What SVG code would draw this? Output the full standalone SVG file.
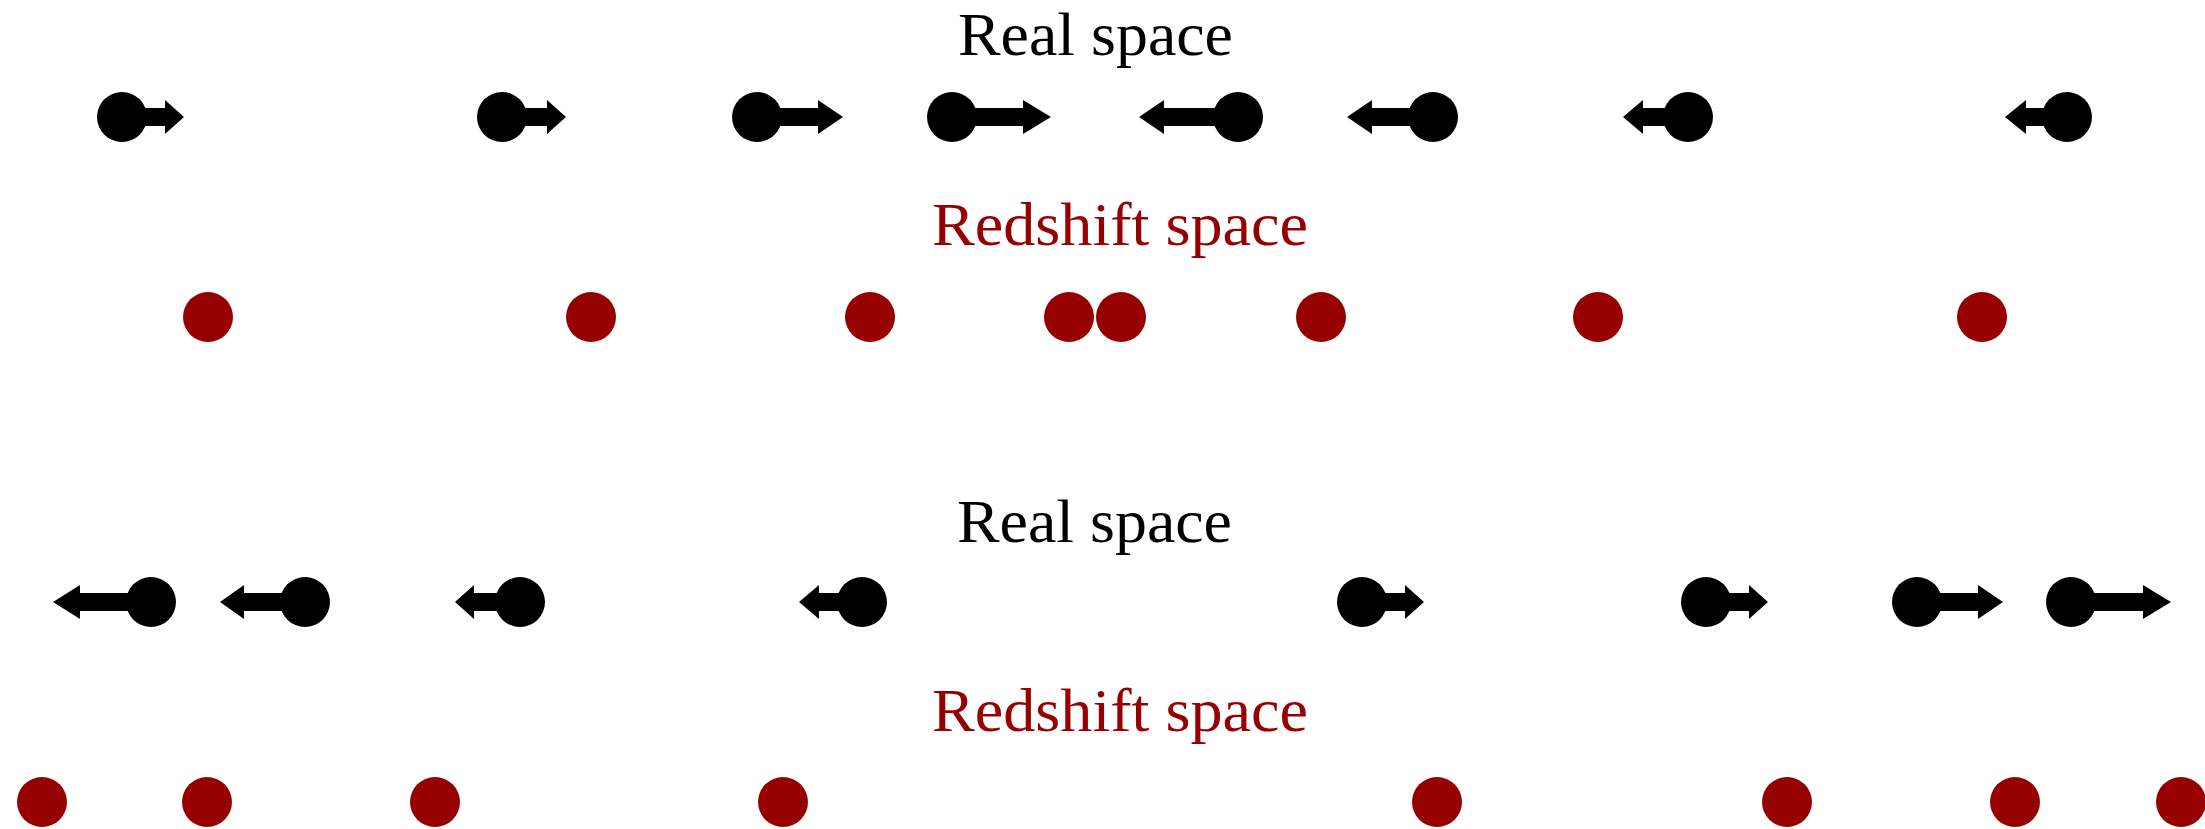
<svg xmlns="http://www.w3.org/2000/svg" width="2205" height="829" viewBox="0 0 2205 829">
<style>
.bg{fill:#ffffff}
.lbl{font-family:"Liberation Serif","DejaVu Serif",serif;font-size:62px}
.real{fill:#000000}
.rs{fill:#960000}
.gal{fill:#000000}
.zgal{fill:#960000}
.arr{fill:#000000}
</style>
<rect class="bg" x="0" y="0" width="2205" height="829"/>
<g id="labels">
<text class="lbl real" x="958" y="55" textLength="275" lengthAdjust="spacingAndGlyphs">Real space</text>
<text class="lbl rs" x="932" y="245" textLength="376" lengthAdjust="spacingAndGlyphs">Redshift space</text>
<text class="lbl real" x="957" y="542" textLength="275" lengthAdjust="spacingAndGlyphs">Real space</text>
<text class="lbl rs" x="932" y="731" textLength="376" lengthAdjust="spacingAndGlyphs">Redshift space</text>
</g>
<g id="connectors">
<polygon class="arr" points="122,108 165,108 165,100 184,117 165,134 165,126 122,126"/>
<polygon class="arr" points="502,108 547,108 547,100 566,117 547,134 547,126 502,126"/>
<polygon class="arr" points="757,108 818,108 818,100 843,117 818,134 818,126 757,126"/>
<polygon class="arr" points="952,108 1023,108 1023,100 1051,117 1023,134 1023,126 952,126"/>
<polygon class="arr" points="1238,108 1164,108 1164,100 1139,117 1164,134 1164,126 1238,126"/>
<polygon class="arr" points="1433,108 1372,108 1372,100 1347,117 1372,134 1372,126 1433,126"/>
<polygon class="arr" points="1688,108 1643,108 1643,100 1623,117 1643,134 1643,126 1688,126"/>
<polygon class="arr" points="2067,108 2026,108 2026,100 2005,117 2026,134 2026,126 2067,126"/>
<polygon class="arr" points="151,593 80,593 80,585 53,602 80,619 80,611 151,611"/>
<polygon class="arr" points="305,593 244,593 244,585 220,602 244,619 244,611 305,611"/>
<polygon class="arr" points="520,593 474,593 474,585 455,602 474,619 474,611 520,611"/>
<polygon class="arr" points="862,593 819,593 819,585 799,602 819,619 819,611 862,611"/>
<polygon class="arr" points="1362,593 1405,593 1405,585 1424,602 1405,619 1405,611 1362,611"/>
<polygon class="arr" points="1706,593 1749,593 1749,585 1768,602 1749,619 1749,611 1706,611"/>
<polygon class="arr" points="1917,593 1978,593 1978,585 2003,602 1978,619 1978,611 1917,611"/>
<polygon class="arr" points="2071,593 2143,593 2143,585 2171,602 2143,619 2143,611 2071,611"/>
</g>
<g id="real-top">
<circle id="r1" class="gal" cx="122" cy="117" r="25"/>
<circle id="r2" class="gal" cx="502" cy="117" r="25"/>
<circle id="r3" class="gal" cx="757" cy="117" r="25"/>
<circle id="r4" class="gal" cx="952" cy="117" r="25"/>
<circle id="r5" class="gal" cx="1238" cy="117" r="25"/>
<circle id="r6" class="gal" cx="1433" cy="117" r="25"/>
<circle id="r7" class="gal" cx="1688" cy="117" r="25"/>
<circle id="r8" class="gal" cx="2067" cy="117" r="25"/>
</g>
<g id="redshift-top">
<circle id="z1" class="zgal" cx="208" cy="317" r="25"/>
<circle id="z2" class="zgal" cx="591" cy="317" r="25"/>
<circle id="z3" class="zgal" cx="870" cy="317" r="25"/>
<circle id="z4" class="zgal" cx="1069" cy="317" r="25"/>
<circle id="z5" class="zgal" cx="1121" cy="317" r="25"/>
<circle id="z6" class="zgal" cx="1321" cy="317" r="25"/>
<circle id="z7" class="zgal" cx="1598" cy="317" r="25"/>
<circle id="z8" class="zgal" cx="1982" cy="317" r="25"/>
</g>
<g id="real-bottom">
<circle id="rb1" class="gal" cx="151" cy="602" r="25"/>
<circle id="rb2" class="gal" cx="305" cy="602" r="25"/>
<circle id="rb3" class="gal" cx="520" cy="602" r="25"/>
<circle id="rb4" class="gal" cx="862" cy="602" r="25"/>
<circle id="rb5" class="gal" cx="1362" cy="602" r="25"/>
<circle id="rb6" class="gal" cx="1706" cy="602" r="25"/>
<circle id="rb7" class="gal" cx="1917" cy="602" r="25"/>
<circle id="rb8" class="gal" cx="2071" cy="602" r="25"/>
</g>
<g id="redshift-bottom">
<circle id="zb1" class="zgal" cx="42" cy="802" r="25"/>
<circle id="zb2" class="zgal" cx="207" cy="802" r="25"/>
<circle id="zb3" class="zgal" cx="435" cy="802" r="25"/>
<circle id="zb4" class="zgal" cx="783" cy="802" r="25"/>
<circle id="zb5" class="zgal" cx="1437" cy="802" r="25"/>
<circle id="zb6" class="zgal" cx="1787" cy="802" r="25"/>
<circle id="zb7" class="zgal" cx="2015" cy="802" r="25"/>
<circle id="zb8" class="zgal" cx="2181" cy="802" r="25"/>
</g>
</svg>
